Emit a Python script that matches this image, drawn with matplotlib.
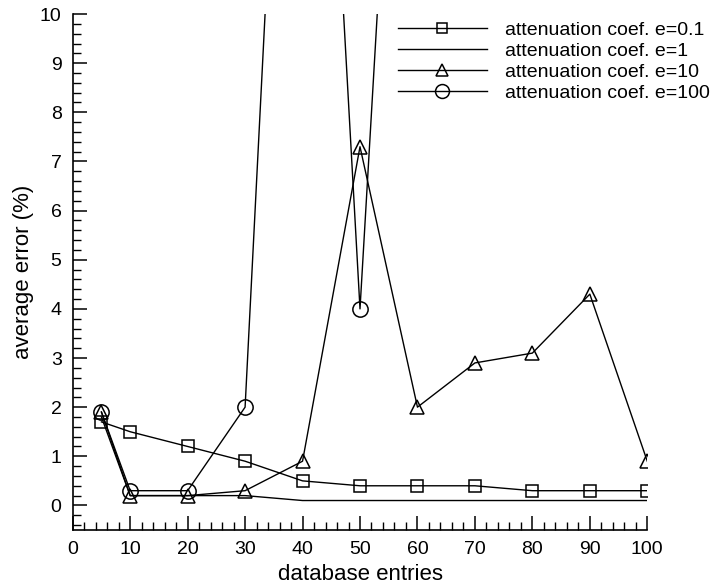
import numpy as np
import matplotlib
matplotlib.use('Agg')
import matplotlib.pyplot as plt
from matplotlib.ticker import MultipleLocator

plt.rcParams['font.family'] = ['Liberation Sans', 'DejaVu Sans']

# data
x = [5, 10, 20, 30, 40, 50, 60, 70, 80, 90, 100]
e01 = [1.7, 1.5, 1.2, 0.9, 0.5, 0.4, 0.4, 0.4, 0.3, 0.3, 0.3]
e1 = [1.8, 0.2, 0.2, 0.2, 0.1, 0.1, 0.1, 0.1, 0.1, 0.1, 0.1]
e10 = [1.9, 0.2, 0.2, 0.3, 0.9, 7.3, 2.0, 2.9, 3.1, 4.3, 0.9]
x100 = [5, 10, 20, 30, 40, 50, 60]
e100 = [1.9, 0.3, 0.3, 2.0, 25.0, 4.0, 24.0]

fig = plt.figure(figsize=(7.2, 5.85), dpi=100)
ax = fig.add_axes([0.101, 0.094, 0.798, 0.882])

lw = 1.0
ax.plot(x, e01, 'k-', marker='s', ms=8, mfc='none', mew=1.1, lw=lw, label='attenuation coef. e=0.1')
ax.plot(x, e1, 'k-', lw=lw, label='attenuation coef. e=1')
ax.plot(x, e10, 'k-', marker='^', ms=9.5, mfc='none', mew=1.1, lw=lw, label='attenuation coef. e=10')
ax.plot(x100, e100, 'k-', marker='o', ms=11, mfc='none', mew=1.1, lw=lw, label='attenuation coef. e=100')

ax.set_xlim(0, 100)
ax.set_ylim(-0.5, 10)
ax.spines['top'].set_visible(False)
ax.spines['right'].set_visible(False)
ax.spines['left'].set_linewidth(1.2)
ax.spines['bottom'].set_linewidth(1.2)

ax.xaxis.set_major_locator(MultipleLocator(10))
ax.xaxis.set_minor_locator(MultipleLocator(2))
ax.yaxis.set_major_locator(MultipleLocator(1))
ax.yaxis.set_minor_locator(MultipleLocator(0.2))
ax.tick_params(which='major', direction='in', length=10, width=1.1, labelsize=14, pad=8)
ax.tick_params(which='minor', direction='in', length=6, width=1.0)

ax.set_xlabel('database entries', fontsize=16, labelpad=4)
ax.set_ylabel('average error (%)', fontsize=16, labelpad=4)

leg = ax.legend(loc='upper right', bbox_to_anchor=(1.125, 1.005), frameon=False, fontsize=14,
                handlelength=4.6, handletextpad=0.9, labelspacing=0.18, borderpad=0)
for h, s in zip(leg.legend_handles, [7, 0, 8, 10]):
    h.set_markersize(s)

fig.savefig('out.png', dpi=100)
